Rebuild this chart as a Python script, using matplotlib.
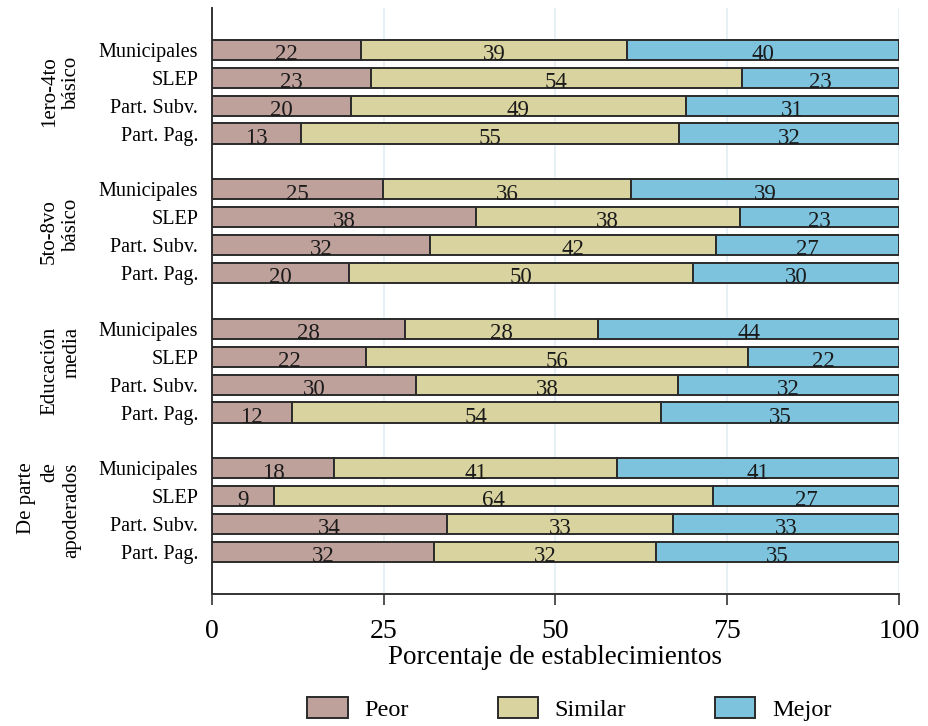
import matplotlib.pyplot as plt
import numpy as np

plt.rcParams['font.family'] = ['Liberation Serif', 'DejaVu Serif']

# data (percent of schools); labels are the rounded values
groups = ["1ero-4to\nbásico", "5to-8vo\nbásico", "Educación\nmedia", "De parte\nde\napoderados"]
tipos = ["Municipales", "SLEP", "Part. Subv.", "Part. Pag."]

peor = [21.7, 23.1, 20.2, 13.0,
        24.9, 38.4, 31.8, 20.0,
        28.1, 22.4, 29.7, 11.6,
        17.8, 9.0, 34.2, 32.3]
similar = [38.7, 54.0, 48.8, 55.0,
           36.1, 38.4, 41.6, 50.0,
           28.1, 55.6, 38.1, 53.8,
           41.1, 63.9, 32.9, 32.3]
mejor = [39.6, 22.9, 31.0, 32.0,
         39.0, 23.2, 26.6, 30.0,
         43.8, 22.0, 32.2, 34.6,
         41.1, 27.1, 32.9, 35.4]

peor_lbl = [22, 23, 20, 13, 25, 38, 32, 20, 28, 22, 30, 12, 18, 9, 34, 32]
similar_lbl = [39, 54, 49, 55, 36, 38, 42, 50, 28, 56, 38, 54, 41, 64, 33, 32]
mejor_lbl = [40, 23, 31, 32, 39, 23, 27, 30, 44, 22, 32, 35, 41, 27, 33, 35]

colors = ["#bfa19c", "#d9d3a0", "#7ec3dd"]
names = ["Peor", "Similar", "Mejor"]

# y positions: 4 bars per group, a gap of 2 between groups
ypos = []
for g in range(len(groups)):
    for t in range(len(tipos)):
        ypos.append(g * 5 + t)
ypos = np.array(ypos)

fig = plt.figure(figsize=(9.29, 7.26), dpi=100)
ax = fig.add_axes([0.2282, 0.182, 0.7395, 0.807])

left = np.zeros(len(ypos))
series = [(peor, peor_lbl), (similar, similar_lbl), (mejor, mejor_lbl)]
for (vals, lbls), c, n in zip(series, colors, names):
    vals = np.array(vals)
    ax.barh(ypos, vals, left=left, height=0.72, color=c, edgecolor="#2b2b2b",
            linewidth=1.4, label=n, zorder=3)
    for y, l, v, lb in zip(ypos, left, vals, lbls):
        ax.text(l + v / 2, y + 0.17, str(lb), ha="center", va="center",
                fontsize=16.5, color="#1a1a1a", zorder=4)
    left = left + vals

ax.set_ylim(19.5, -1.5)
ax.set_xlim(0, 100)
ax.set_yticks(ypos)
ax.set_yticklabels(tipos * len(groups), fontsize=14.5)
ax.tick_params(axis="y", length=0, pad=10)
ax.set_xticks([0, 25, 50, 75, 100])
ax.tick_params(axis="x", labelsize=20, length=8, width=1.2, pad=10, color="#333333")
ax.grid(axis="x", color="#e3edf2", linewidth=1.2, zorder=0)
ax.spines["top"].set_visible(False)
ax.spines["right"].set_visible(False)
ax.spines["left"].set_linewidth(1.4)
ax.spines["bottom"].set_linewidth(1.4)
ax.spines["left"].set_color("#333333")
ax.spines["bottom"].set_color("#333333")
ax.set_xlabel("Porcentaje de establecimientos", fontsize=19.5, labelpad=1)

# group labels on the left, rotated
for g, name in enumerate(groups):
    yc = g * 5 + 1.5
    ax.text(-0.19, yc, name, transform=ax.get_yaxis_transform(), rotation=90,
            ha="right", va="center", fontsize=15, linespacing=1.25)

fig.legend(loc="lower center", bbox_to_anchor=(0.613, -0.013), ncol=3, frameon=False,
           fontsize=17.5, handlelength=1.65, handleheight=1.0, handletextpad=0.7,
           columnspacing=3.65, borderaxespad=0.2)

fig.savefig("out.png", dpi=100)
